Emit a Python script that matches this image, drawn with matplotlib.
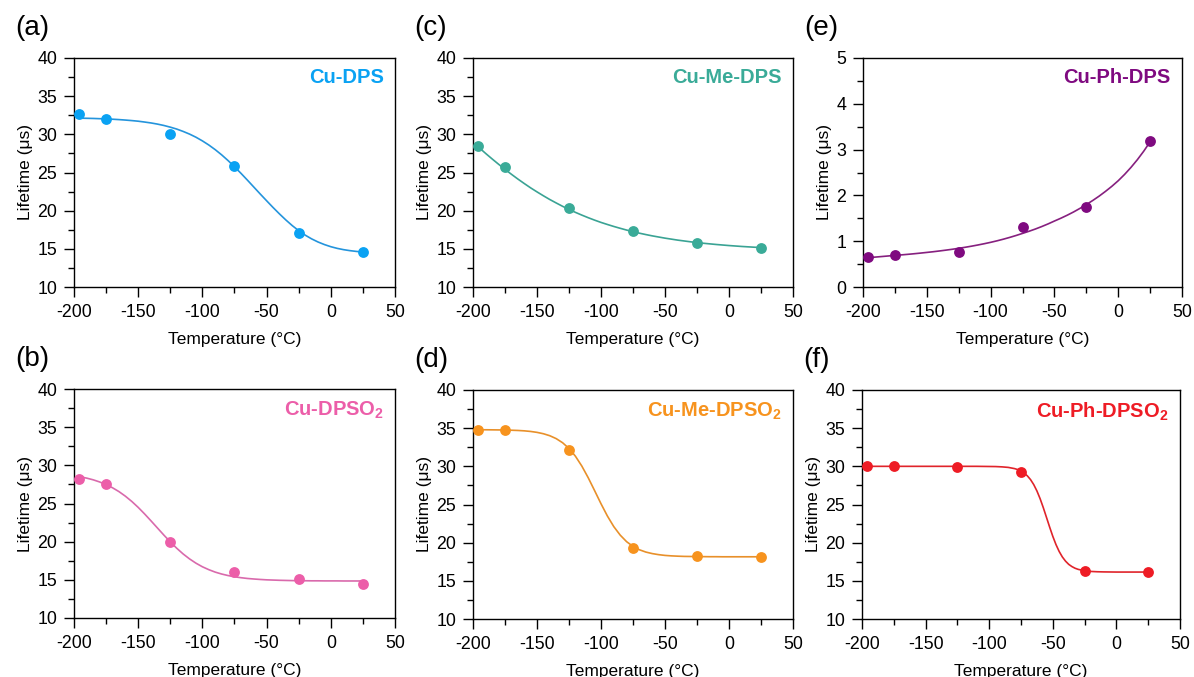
import matplotlib
matplotlib.use("Agg")
import matplotlib.pyplot as plt
from matplotlib.ticker import MultipleLocator

plt.rcParams['font.family'] = ['Liberation Sans', 'DejaVu Sans']
plt.rcParams['axes.unicode_minus'] = False
plt.rcParams['mathtext.fontset'] = 'custom'
plt.rcParams['mathtext.rm'] = 'Liberation Sans:bold'
plt.rcParams['mathtext.default'] = 'rm'

# ---- data ----
temps = [-196, -175, -125, -75, -25, 25]

y_a = [32.7, 32.0, 30.1, 25.9, 17.1, 14.6]
y_b = [28.2, 27.5, 19.9, 16.0, 15.1, 14.4]
y_c = [28.5, 25.7, 20.3, 17.3, 15.7, 15.1]
y_d = [34.8, 34.7, 32.1, 19.3, 18.2, 18.1]
y_e = [0.66, 0.69, 0.77, 1.30, 1.75, 3.19]
y_f = [30.1, 30.0, 29.9, 29.3, 16.3, 16.1]

# fitted curves
curve_x = [-196, -190, -185, -180, -175, -170, -165, -160, -155, -150,
           -145, -140, -135, -130, -125, -120, -115, -110, -105, -100,
           -95, -90, -85, -80, -75, -70, -65, -60, -55, -50,
           -45, -40, -35, -30, -25, -20, -15, -10, -5, 0,
           5, 10, 15, 20, 25]

fit_a = [32.12, 32.10, 32.08, 32.05, 32.02, 31.98, 31.93, 31.87, 31.80, 31.72,
         31.61, 31.49, 31.34, 31.16, 30.94, 30.69, 30.38, 30.03, 29.62, 29.14,
         28.60, 27.99, 27.31, 26.56, 25.75, 24.90, 24.01, 23.10, 22.19, 21.30,
         20.42, 19.58, 18.78, 18.04, 17.38, 16.80, 16.31, 15.90, 15.56, 15.28,
         15.06, 14.89, 14.76, 14.66, 14.58]

fit_b = [28.52, 28.32, 28.10, 27.82, 27.48, 27.06, 26.56, 25.96, 25.27, 24.49,
         23.63, 22.72, 21.79, 20.86, 19.97, 19.14, 18.39, 17.74, 17.18, 16.71,
         16.33, 16.01, 15.76, 15.56, 15.40, 15.28, 15.18, 15.11, 15.05, 15.00,
         14.97, 14.94, 14.92, 14.90, 14.89, 14.88, 14.87, 14.87, 14.86, 14.86,
         14.86, 14.85, 14.85, 14.85, 14.85]

fit_c = [28.37, 27.48, 26.77, 26.08, 25.41, 24.77, 24.15, 23.56, 22.99, 22.46,
         21.95, 21.46, 21.01, 20.57, 20.16, 19.78, 19.42, 19.08, 18.76, 18.46,
         18.19, 17.93, 17.69, 17.46, 17.25, 17.05, 16.87, 16.70, 16.55, 16.40,
         16.27, 16.14, 16.03, 15.92, 15.82, 15.73, 15.65, 15.57, 15.50, 15.43,
         15.37, 15.31, 15.26, 15.21, 15.17]

fit_d = [34.79, 34.79, 34.78, 34.77, 34.76, 34.73, 34.70, 34.65, 34.57, 34.45,
         34.27, 34.01, 33.63, 33.09, 32.34, 31.33, 30.04, 28.51, 26.82, 25.10,
         23.49, 22.10, 20.99, 20.13, 19.51, 19.07, 18.77, 18.57, 18.43, 18.33,
         18.27, 18.23, 18.20, 18.19, 18.17, 18.17, 18.16, 18.16, 18.15, 18.15,
         18.15, 18.15, 18.15, 18.15, 18.15]

fit_e = [0.640, 0.654, 0.666, 0.678, 0.690, 0.701, 0.713, 0.726, 0.740, 0.755,
         0.770, 0.787, 0.805, 0.824, 0.845, 0.867, 0.891, 0.917, 0.945, 0.975,
         1.008, 1.044, 1.083, 1.125, 1.170, 1.216, 1.265, 1.319, 1.377, 1.440,
         1.501, 1.567, 1.638, 1.716, 1.800, 1.888, 1.983, 2.087, 2.198, 2.320,
         2.458, 2.611, 2.779, 2.965, 3.170]

curve_x_f = [-196, -190, -180, -170, -160, -150, -140, -130, -120, -110,
             -105, -100, -95, -90, -85, -80, -77.5, -75, -72.5, -70,
             -67.5, -65, -62.5, -60, -57.5, -55, -52.5, -50, -47.5, -45,
             -42.5, -40, -37.5, -35, -32.5, -30, -25, -20, -15, -10,
             -5, 0, 10, 25]
fit_f = [30.00, 30.00, 30.00, 30.00, 30.00, 30.00, 30.00, 30.00, 30.00, 30.00,
         29.99, 29.98, 29.97, 29.93, 29.86, 29.70, 29.57, 29.38, 29.12, 28.75,
         28.26, 27.61, 26.78, 25.77, 24.60, 23.33, 22.05, 20.83, 19.75, 18.85,
         18.13, 17.58, 17.16, 16.87, 16.65, 16.50, 16.32, 16.23, 16.19, 16.17,
         16.16, 16.15, 16.15, 16.15]

panels = [
    # letter, name, points, fit x, fit y, marker color, line color, ylim, ymajor, yminor, pos(px)
    ("(a)", "Cu-DPS", y_a, curve_x, fit_a, "#0aa2f3", "#2494dc", (10, 40), 5, 2.5, (74, 58, 321, 229)),
    ("(b)", "Cu-DPSO$_2$", y_b, curve_x, fit_b, "#ec5ea9", "#d96aac", (10, 40), 5, 2.5, (74, 389, 321, 229)),
    ("(c)", "Cu-Me-DPS", y_c, curve_x, fit_c, "#3aab98", "#3aa394", (10, 40), 5, 2.5, (473, 58, 320, 229)),
    ("(d)", "Cu-Me-DPSO$_2$", y_d, curve_x, fit_d, "#f7931e", "#e8902a", (10, 40), 5, 2.5, (473, 390, 320, 229)),
    ("(e)", "Cu-Ph-DPS", y_e, curve_x, fit_e, "#7f0a80", "#86207f", (0, 5), 1, 0.5, (863, 58, 319, 229)),
    ("(f)", "Cu-Ph-DPSO$_2$", y_f, curve_x_f, fit_f, "#ee1c25", "#e0242b", (10, 40), 5, 2.5, (862, 390, 318, 229)),
]

W, H = 1194, 677
fig = plt.figure(figsize=(W / 100, H / 100), dpi=100)

for letter, name, pts, fx, fy, mcol, lcol, ylim, ymaj, ymin, (l, t, w, h) in panels:
    ax = fig.add_axes([l / W, 1 - (t + h) / H, w / W, h / H])
    ax.plot(fx, fy, color=lcol, lw=1.2, zorder=2)
    ax.plot(temps, pts, 'o', color=mcol, ms=7.8, mec='none', zorder=3)
    ax.set_xlim(-200, 50)
    ax.set_ylim(*ylim)
    ax.xaxis.set_major_locator(MultipleLocator(50))
    ax.xaxis.set_minor_locator(MultipleLocator(25))
    ax.yaxis.set_major_locator(MultipleLocator(ymaj))
    ax.yaxis.set_minor_locator(MultipleLocator(ymin))
    ax.tick_params(which='both', direction='out', top=False, right=False,
                   labelsize=12.8, width=1.0, colors='black')
    ax.tick_params(which='major', length=7.5, pad=4.5)
    ax.tick_params(which='minor', length=4)
    for s in ax.spines.values():
        s.set_linewidth(1.0)
    ax.set_xlabel("Temperature (°C)", fontsize=12.5, labelpad=8)
    ax.set_ylabel("Lifetime (μs)", fontsize=12.5, labelpad=3)
    ax.text(0.965, 0.955, name, transform=ax.transAxes, ha='right', va='top',
            fontsize=14.5, fontweight='bold', color=mcol)
    fig.text((l - 59) / W, 1 - (t - 30) / H, letter, fontsize=20,
             ha='left', va='center')

fig.savefig("out.png", dpi=100)
